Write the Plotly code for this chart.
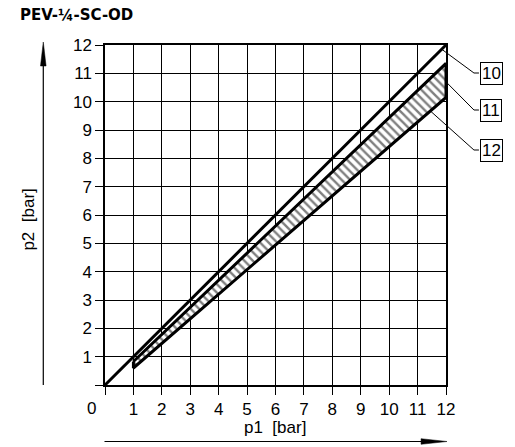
import plotly.graph_objects as go

# ---- data ----
ticks = list(range(0, 13))
x_tick_text = [""] + [str(v) for v in range(1, 13)]
y_tick_text = [""] + [str(v) for v in range(1, 13)]

# line 10: p2 = p1 reference
ref_p1 = [0, 12]
ref_p2 = [0, 12]

# band (11 upper edge, 12 lower edge)
upper_p1 = [1, 12]
upper_p2 = [0.83, 11.35]
lower_p1 = [1, 12]
lower_p2 = [0.6, 10.15]

callout_labels = ["10", "11", "12"]
callout_targets = [(11.85, 11.85), (12.0, 10.7), (11.44, 9.68)]

FONT = "Liberation Sans"

# plot area in pixels
L, R, T, B = 104.5, 446, 45, 385
W, H = 515, 447


def px(x):
    return (x - L) / (R - L)


def py(y):
    return (B - y) / (B - T)


fig = go.Figure()

band_x = upper_p1 + lower_p1[::-1] + [upper_p1[0]]
band_y = upper_p2 + lower_p2[::-1] + [upper_p2[0]]
fig.add_trace(go.Scatter(
    x=band_x, y=band_y, mode="lines", fill="toself",
    fillcolor="white",
    fillpattern=dict(shape="\\", fgcolor="black", bgcolor="white", size=6, solidity=0.4),
    line=dict(color="black", width=3), hoverinfo="skip", showlegend=False,
))
fig.add_trace(go.Scatter(
    x=ref_p1, y=ref_p2, mode="lines",
    line=dict(color="black", width=3), showlegend=False,
))

axis_common = dict(
    range=[0, 12], tickvals=ticks, showgrid=True, gridcolor="black", gridwidth=1.2,
    ticks="outside", ticklen=8, tickcolor="black", tickwidth=1.2,
    showline=True, mirror=True, linecolor="black", linewidth=1.5,
    zeroline=False, fixedrange=True,
    tickfont=dict(family=FONT, size=17, color="black"),
)
fig.update_xaxes(ticktext=x_tick_text, **axis_common)
fig.update_yaxes(ticktext=y_tick_text, **axis_common)

shapes = []
annotations = []

# callouts
box_x = 491.5
box_left = 479
kink_x = 474
box_ys = [73, 110, 150]
for lab, (tx, ty), by in zip(callout_labels, callout_targets, box_ys):
    shapes.append(dict(
        type="path", xref="paper", yref="paper",
        path=f"M {tx/12} {ty/12} L {px(kink_x)} {py(by)} L {px(box_left)} {py(by)}",
        line=dict(color="black", width=1),
    ))
    annotations.append(dict(
        x=px(box_x), y=py(by), xref="paper", yref="paper", text=lab, showarrow=False,
        font=dict(family=FONT, size=17, color="black"),
        bordercolor="black", borderwidth=1, borderpad=1, bgcolor="white",
        xanchor="center", yanchor="middle",
    ))

# x direction arrow
ay_x = 441.5
shapes.append(dict(type="line", xref="paper", yref="paper",
                   x0=px(104), y0=py(ay_x), x1=px(425), y1=py(ay_x),
                   line=dict(color="black", width=1.2)))
shapes.append(dict(type="path", xref="paper", yref="paper",
                   path=f"M {px(421)} {py(ay_x-2.8)} L {px(447)} {py(ay_x)} L {px(421)} {py(ay_x+2.8)} Z",
                   fillcolor="black", line=dict(color="black", width=0.5)))

# y direction arrow
ax_y = 42.7
shapes.append(dict(type="line", xref="paper", yref="paper",
                   x0=px(ax_y), y0=py(385), x1=px(ax_y), y1=py(62),
                   line=dict(color="black", width=1.2)))
shapes.append(dict(type="path", xref="paper", yref="paper",
                   path=f"M {px(ax_y-2.8)} {py(66)} L {px(ax_y)} {py(42)} L {px(ax_y+2.8)} {py(66)} Z",
                   fillcolor="black", line=dict(color="black", width=0.5)))

annotations += [
    dict(x=px(17), y=py(15), xref="paper", yref="paper", text="<b>PEV-¼-SC-OD</b>",
         showarrow=False, xanchor="left", yanchor="middle",
         font=dict(family="DejaVu Sans", size=15, color="black")),
    dict(x=px(28), y=py(220), xref="paper", yref="paper", text="p2  [bar]",
         showarrow=False, textangle=-90, xanchor="center", yanchor="middle",
         font=dict(family=FONT, size=17, color="black")),
    dict(x=px(275), y=py(427), xref="paper", yref="paper", text="p1  [bar]",
         showarrow=False, xanchor="center", yanchor="middle",
         font=dict(family=FONT, size=17, color="black")),
    dict(x=px(91), y=py(408), xref="paper", yref="paper", text="0",
         showarrow=False, xanchor="center", yanchor="middle",
         font=dict(family=FONT, size=17, color="black")),
]

fig.update_layout(
    width=W, height=H,
    margin=dict(l=L, r=W - R, t=T, b=H - B),
    plot_bgcolor="white", paper_bgcolor="white",
    shapes=shapes, annotations=annotations, showlegend=False,
)

fig.write_html(
    "out.html",
    config={"displayModeBar": False},
    post_script="document.body.style.margin='0';document.body.style.overflow='hidden';",
)
